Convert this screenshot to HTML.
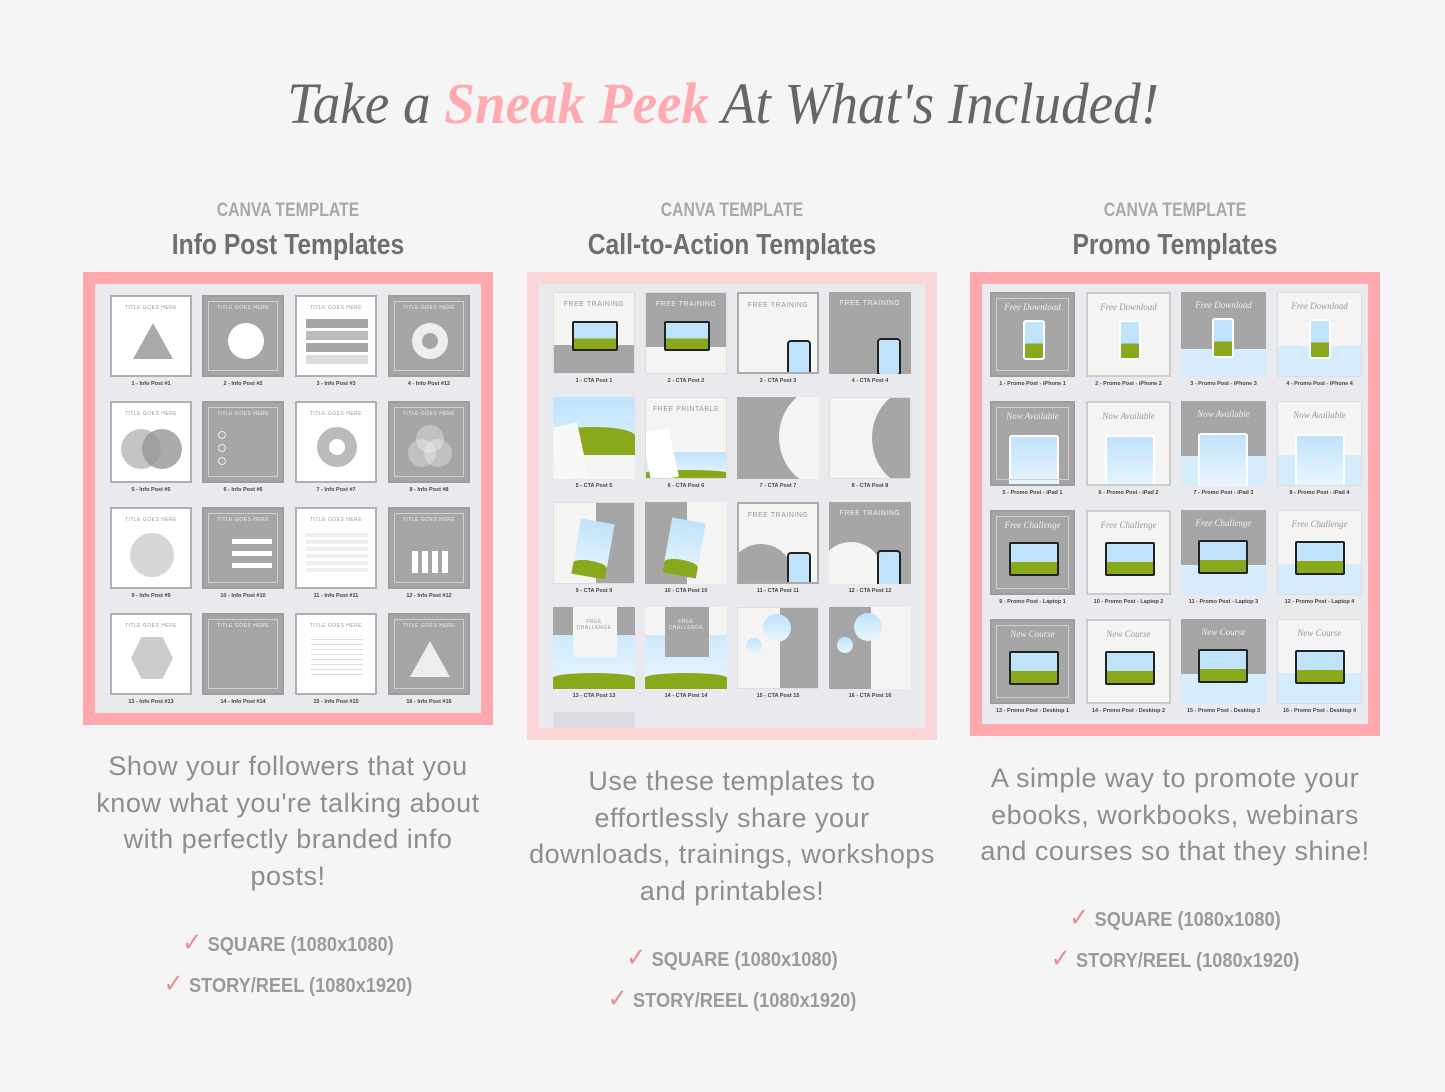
<!DOCTYPE html>
<html><head><meta charset="utf-8">
<style>
*{margin:0;padding:0;box-sizing:border-box}
body{width:1445px;height:1092px;background:#f5f5f5;position:relative;overflow:hidden;font-family:"Liberation Sans",sans-serif}
.abs{position:absolute}
#title{left:0;top:70px;width:1445px;text-align:center;font-family:"Liberation Serif",serif;font-style:italic;font-size:58px;color:#666;white-space:nowrap;transform:scaleX(0.95);transform-origin:734px 0}
#title span{color:#ffaab0;font-weight:bold}
.ct{font-family:"Liberation Sans Narrow","Liberation Sans",sans-serif;font-weight:bold;color:#a8a8a8;font-size:19px;text-align:center;width:410px;transform:scaleX(0.83)}
.st{font-family:"Liberation Sans Narrow","Liberation Sans",sans-serif;font-weight:bold;color:#6f6f6f;font-size:29px;text-align:center;width:410px;transform:scaleX(0.85)}
.panel{position:absolute}
.inner{position:absolute;background:#e9eaee}
.t{position:absolute;overflow:hidden}
.w{background:#fff;border:2px solid #b0b0b0}
.g{background:#a6a6a6;border:2px solid #9c9c9c}
.g::after{content:"";position:absolute;left:4px;top:4px;right:4px;bottom:4px;border:1px solid #cfcfcf}
.lb{position:absolute;font-size:5.5px;font-weight:bold;color:#444;text-align:center;white-space:nowrap}
.tt{position:absolute;left:0;right:0;top:8px;text-align:center;font-size:5px;letter-spacing:.5px;color:#999}
.g .tt{color:#eee}
.desc{text-align:center;color:#8e8e8e;font-size:27px;letter-spacing:.5px;line-height:36.5px;width:440px}
.chk{font-family:"Liberation Sans Narrow","Liberation Sans",sans-serif;font-weight:bold;color:#9a9a9a;font-size:20px;width:410px;text-align:center;transform:scaleX(0.91)}
.chk b{color:#e58f95;font-size:26px;margin-right:6px;font-weight:normal;font-family:"DejaVu Sans",sans-serif}
.lt{background:#f4f4f2;border:1px solid #ddd}
.sky{background:linear-gradient(#bfe3fb,#eaf6fe)}
.grass{position:absolute;left:0;right:0;bottom:0;background:#8aa81c;border-radius:50% 50% 0 0/30% 30% 0 0}
.dev{position:absolute;border:2px solid #222;background:linear-gradient(#bfe3fb 60%,#8aa81c 60%);border-radius:2px}
.sc{font-size:9px;font-style:italic;font-family:'Liberation Serif',serif;letter-spacing:0}
</style></head><body>
<div id="title" class="abs">Take a <span>Sneak Peek</span> At What's Included!</div>

<div class="abs ct" style="left:83px;top:200px">CANVA TEMPLATE</div>
<div class="abs st" style="left:83px;top:229px">Info Post Templates</div>
<div class="abs ct" style="left:527px;top:200px">CANVA TEMPLATE</div>
<div class="abs st" style="left:527px;top:229px">Call-to-Action Templates</div>
<div class="abs ct" style="left:970px;top:200px">CANVA TEMPLATE</div>
<div class="abs st" style="left:970px;top:229px">Promo Templates</div>

<div class="panel" style="left:83px;top:272px;width:410px;height:453px;background:#ffa8ae"></div>
<div class="inner" style="left:95px;top:284px;width:386px;height:429px"></div>
<div class="panel" style="left:527px;top:272px;width:410px;height:468px;background:#fcd5d7"></div>
<div class="inner" style="left:539px;top:284px;width:386px;height:444px"></div>
<div class="t" style="left:553px;top:712px;width:82px;height:16px;background:#dcdde3"></div>
<div class="panel" style="left:970px;top:272px;width:410px;height:464px;background:#ffa8ae"></div>
<div class="inner" style="left:982px;top:284px;width:386px;height:440px"></div>

<!-- tiles panel 1 -->
<div class="t w" style="left:110px;top:295px;width:82px;height:82px"><div class="tt">TITLE GOES HERE</div><div class="abs" style="left:21px;top:26px;width:0;height:0;border-left:20px solid transparent;border-right:20px solid transparent;border-bottom:36px solid #aaa"></div></div>
<div class="t g" style="left:202px;top:295px;width:82px;height:82px"><div class="tt">TITLE GOES HERE</div><div class="abs" style="left:24px;top:26px;width:36px;height:36px;border-radius:50%;background:#fff"></div></div>
<div class="t w" style="left:295px;top:295px;width:82px;height:82px"><div class="tt">TITLE GOES HERE</div><div class="abs" style="left:9px;top:22px;width:62px;height:9px;background:#a6a6a6"></div><div class="abs" style="left:9px;top:34px;width:62px;height:9px;background:#bbb"></div><div class="abs" style="left:9px;top:46px;width:62px;height:9px;background:#a6a6a6"></div><div class="abs" style="left:9px;top:58px;width:62px;height:9px;background:#ddd"></div></div>
<div class="t g" style="left:388px;top:295px;width:82px;height:82px"><div class="tt">TITLE GOES HERE</div><div class="abs" style="left:22px;top:26px;width:36px;height:36px;border-radius:50%;border:10px solid #eee"></div></div>

<div class="t w" style="left:110px;top:401px;width:82px;height:82px"><div class="tt">TITLE GOES HERE</div><div class="abs" style="left:9px;top:26px;width:40px;height:40px;border-radius:50%;background:#c4c4c4"></div><div class="abs" style="left:30px;top:26px;width:40px;height:40px;border-radius:50%;background:rgba(150,150,150,.8)"></div></div>
<div class="t g" style="left:202px;top:401px;width:82px;height:82px"><div class="tt">TITLE GOES HERE</div><div class="abs" style="left:14px;top:28px;width:8px;height:8px;border:1px solid #eee;border-radius:50%"></div><div class="abs" style="left:14px;top:41px;width:8px;height:8px;border:1px solid #eee;border-radius:50%"></div><div class="abs" style="left:14px;top:54px;width:8px;height:8px;border:1px solid #eee;border-radius:50%"></div></div>
<div class="t w" style="left:295px;top:401px;width:82px;height:82px"><div class="tt">TITLE GOES HERE</div><div class="abs" style="left:20px;top:24px;width:40px;height:40px;border-radius:50%;border:12px solid #bbb"></div></div>
<div class="t g" style="left:388px;top:401px;width:82px;height:82px"><div class="tt">TITLE GOES HERE</div><div class="abs" style="left:26px;top:22px;width:28px;height:28px;border-radius:50%;background:rgba(255,255,255,.3)"></div><div class="abs" style="left:18px;top:36px;width:28px;height:28px;border-radius:50%;background:rgba(255,255,255,.3)"></div><div class="abs" style="left:34px;top:36px;width:28px;height:28px;border-radius:50%;background:rgba(255,255,255,.3)"></div></div>

<div class="t w" style="left:110px;top:507px;width:82px;height:82px"><div class="tt">TITLE GOES HERE</div><div class="abs" style="left:18px;top:24px;width:44px;height:44px;border-radius:50%;background:#d6d6d6"></div></div>
<div class="t g" style="left:202px;top:507px;width:82px;height:82px"><div class="tt">TITLE GOES HERE</div><div class="abs" style="left:28px;top:30px;width:40px;height:5px;background:#fff"></div><div class="abs" style="left:28px;top:42px;width:40px;height:5px;background:#fff"></div><div class="abs" style="left:28px;top:54px;width:40px;height:5px;background:#fff"></div></div>
<div class="t w" style="left:295px;top:507px;width:82px;height:82px"><div class="tt">TITLE GOES HERE</div><div class="abs" style="left:9px;top:24px;width:62px;height:40px;background:repeating-linear-gradient(#eee 0 4px,#fff 4px 7px)"></div></div>
<div class="t g" style="left:388px;top:507px;width:82px;height:82px"><div class="tt">TITLE GOES HERE</div><div class="abs" style="left:22px;top:42px;width:36px;height:22px;background:repeating-linear-gradient(90deg,#fff 0 6px,transparent 6px 10px)"></div></div>

<div class="t w" style="left:110px;top:613px;width:82px;height:82px"><div class="tt">TITLE GOES HERE</div><div class="abs" style="left:19px;top:22px;width:42px;height:42px;background:#ccc;clip-path:polygon(25% 0,75% 0,100% 50%,75% 100%,25% 100%,0 50%)"></div></div>
<div class="t g" style="left:202px;top:613px;width:82px;height:82px"><div class="tt">TITLE GOES HERE</div></div>
<div class="t w" style="left:295px;top:613px;width:82px;height:82px"><div class="tt">TITLE GOES HERE</div><div class="abs" style="left:14px;top:24px;width:52px;height:40px;background:repeating-linear-gradient(#ddd 0 1px,#fff 1px 5px)"></div></div>
<div class="t g" style="left:388px;top:613px;width:82px;height:82px"><div class="tt">TITLE GOES HERE</div><div class="abs" style="left:20px;top:26px;width:0;height:0;border-left:20px solid transparent;border-right:20px solid transparent;border-bottom:36px solid #eee"></div></div>

<div class="lb" style="left:110px;top:381px;width:82px">1 - Info Post #1</div>
<div class="lb" style="left:202px;top:381px;width:82px">2 - Info Post #2</div>
<div class="lb" style="left:295px;top:381px;width:82px">3 - Info Post #3</div>
<div class="lb" style="left:388px;top:381px;width:82px">4 - Info Post #12</div>
<div class="lb" style="left:110px;top:487px;width:82px">5 - Info Post #5</div>
<div class="lb" style="left:202px;top:487px;width:82px">6 - Info Post #6</div>
<div class="lb" style="left:295px;top:487px;width:82px">7 - Info Post #7</div>
<div class="lb" style="left:388px;top:487px;width:82px">8 - Info Post #8</div>
<div class="lb" style="left:110px;top:593px;width:82px">9 - Info Post #9</div>
<div class="lb" style="left:202px;top:593px;width:82px">10 - Info Post #10</div>
<div class="lb" style="left:295px;top:593px;width:82px">11 - Info Post #11</div>
<div class="lb" style="left:388px;top:593px;width:82px">12 - Info Post #12</div>
<div class="lb" style="left:110px;top:699px;width:82px">13 - Info Post #13</div>
<div class="lb" style="left:202px;top:699px;width:82px">14 - Info Post #14</div>
<div class="lb" style="left:295px;top:699px;width:82px">15 - Info Post #15</div>
<div class="lb" style="left:388px;top:699px;width:82px">16 - Info Post #16</div>

<!-- tiles panel 2 -->
<div class="t lt" style="left:553px;top:292px;width:82px;height:82px"><div class="tt" style="font-size:7px">FREE TRAINING</div><div class="abs" style="left:0;right:0;bottom:0;height:28px;background:#a6a6a6"></div><div class="dev" style="left:18px;top:28px;width:46px;height:30px"></div></div>
<div class="t lt" style="left:645px;top:292px;width:82px;height:82px"><div class="abs" style="left:0;right:0;top:0;height:54px;background:#a6a6a6"></div><div class="tt" style="color:#eee;font-size:7px">FREE TRAINING</div><div class="dev" style="left:18px;top:28px;width:46px;height:30px"></div></div>
<div class="t lt" style="left:737px;top:292px;width:82px;height:82px;border:2px solid #aaa"><div class="tt" style="font-size:7px">FREE TRAINING</div><div class="dev" style="left:48px;top:46px;width:24px;height:38px;border-radius:4px;background:#bfe3fb"></div></div>
<div class="t" style="left:829px;top:292px;width:82px;height:82px;background:#a6a6a6"><div class="tt" style="color:#eee;font-size:7px">FREE TRAINING</div><div class="dev" style="left:48px;top:46px;width:24px;height:38px;border-radius:4px;background:#bfe3fb"></div></div>

<div class="t sky" style="left:553px;top:397px;width:82px;height:82px"><div class="grass" style="height:30px;bottom:22px"></div><div class="abs" style="left:0;right:0;bottom:0;height:24px;background:#f4f4f2"></div><div class="abs" style="left:0;top:28px;width:30px;height:54px;background:#f8f8f8;transform:rotate(-12deg)"></div></div>
<div class="t lt" style="left:645px;top:397px;width:82px;height:82px"><div class="tt" style="font-size:7px">FREE PRINTABLE</div><div class="abs sky" style="left:0;right:0;bottom:0;height:26px"></div><div class="grass" style="height:8px"></div><div class="abs" style="left:0;top:32px;width:28px;height:50px;background:#fff;transform:rotate(-12deg)"></div></div>
<div class="t" style="left:737px;top:397px;width:82px;height:82px;background:#a6a6a6"><div class="abs" style="left:42px;top:-10px;width:90px;height:100px;border-radius:50%;background:#f4f4f2"></div></div>
<div class="t lt" style="left:829px;top:397px;width:82px;height:82px"><div class="abs" style="left:42px;top:-10px;width:90px;height:100px;border-radius:50%;background:#a6a6a6"></div></div>

<div class="t lt" style="left:553px;top:502px;width:82px;height:82px"><div class="abs" style="left:42px;top:0;width:40px;height:82px;background:#a6a6a6"></div><div class="abs sky" style="left:22px;top:18px;width:34px;height:56px;transform:rotate(10deg)"><div class="grass" style="height:16px"></div></div></div>
<div class="t" style="left:645px;top:502px;width:82px;height:82px;background:#a6a6a6"><div class="abs" style="left:42px;top:0;width:40px;height:82px;background:#f4f4f2"></div><div class="abs sky" style="left:22px;top:18px;width:34px;height:56px;transform:rotate(10deg)"><div class="grass" style="height:16px"></div></div></div>
<div class="t lt" style="left:737px;top:502px;width:82px;height:82px;border:2px solid #aaa"><div class="tt" style="font-size:7px">FREE TRAINING</div><div class="abs" style="left:-10px;top:40px;width:64px;height:64px;border-radius:50%;background:#a6a6a6"></div><div class="dev" style="left:48px;top:48px;width:24px;height:38px;border-radius:4px;background:#bfe3fb"></div></div>
<div class="t" style="left:829px;top:502px;width:82px;height:82px;background:#a6a6a6"><div class="tt" style="color:#eee;font-size:7px">FREE TRAINING</div><div class="abs" style="left:-10px;top:40px;width:64px;height:64px;border-radius:50%;background:#f4f4f2"></div><div class="dev" style="left:48px;top:48px;width:24px;height:38px;border-radius:4px;background:#bfe3fb"></div></div>

<div class="t sky" style="left:553px;top:607px;width:82px;height:82px"><div class="abs" style="left:0;top:0;right:0;height:28px;background:#a6a6a6"></div><div class="abs" style="left:20px;top:0;width:44px;height:50px;background:#f4f4f2"></div><div class="tt" style="top:12px">FREE<br>CHALLENGE</div><div class="grass" style="height:16px"></div></div>
<div class="t sky" style="left:645px;top:607px;width:82px;height:82px"><div class="abs" style="left:0;top:0;right:0;height:28px;background:#f4f4f2"></div><div class="abs" style="left:20px;top:0;width:44px;height:50px;background:#a6a6a6"></div><div class="tt" style="top:12px;color:#eee">FREE<br>CHALLENGE</div><div class="grass" style="height:16px"></div></div>
<div class="t lt" style="left:737px;top:607px;width:82px;height:82px"><div class="abs" style="left:42px;top:0;width:40px;height:82px;background:#a6a6a6"></div><div class="abs sky" style="left:25px;top:6px;width:28px;height:28px;border-radius:50%"></div><div class="abs sky" style="left:8px;top:30px;width:16px;height:16px;border-radius:50%"></div></div>
<div class="t" style="left:829px;top:607px;width:82px;height:82px;background:#f4f4f2"><div class="abs" style="left:0;top:0;width:42px;height:82px;background:#a6a6a6"></div><div class="abs sky" style="left:25px;top:6px;width:28px;height:28px;border-radius:50%"></div><div class="abs sky" style="left:8px;top:30px;width:16px;height:16px;border-radius:50%"></div></div>

<div class="lb" style="left:553px;top:378px;width:82px">1 - CTA Post 1</div>
<div class="lb" style="left:645px;top:378px;width:82px">2 - CTA Post 2</div>
<div class="lb" style="left:737px;top:378px;width:82px">3 - CTA Post 3</div>
<div class="lb" style="left:829px;top:378px;width:82px">4 - CTA Post 4</div>
<div class="lb" style="left:553px;top:483px;width:82px">5 - CTA Post 5</div>
<div class="lb" style="left:645px;top:483px;width:82px">6 - CTA Post 6</div>
<div class="lb" style="left:737px;top:483px;width:82px">7 - CTA Post 7</div>
<div class="lb" style="left:829px;top:483px;width:82px">8 - CTA Post 8</div>
<div class="lb" style="left:553px;top:588px;width:82px">9 - CTA Post 9</div>
<div class="lb" style="left:645px;top:588px;width:82px">10 - CTA Post 10</div>
<div class="lb" style="left:737px;top:588px;width:82px">11 - CTA Post 11</div>
<div class="lb" style="left:829px;top:588px;width:82px">12 - CTA Post 12</div>
<div class="lb" style="left:553px;top:693px;width:82px">13 - CTA Post 13</div>
<div class="lb" style="left:645px;top:693px;width:82px">14 - CTA Post 14</div>
<div class="lb" style="left:737px;top:693px;width:82px">15 - CTA Post 15</div>
<div class="lb" style="left:829px;top:693px;width:82px">16 - CTA Post 16</div>

<!-- tiles panel 3 -->
<div class="t g" style="left:990px;top:292px;width:85px;height:85px"><div class="tt sc">Free Download</div><div class="dev" style="left:31px;top:26px;width:22px;height:40px;border-color:#fff;border-radius:3px"></div></div>
<div class="t lt" style="left:1086px;top:292px;width:85px;height:85px;border:2px solid #ccc"><div class="tt sc">Free Download</div><div class="dev" style="left:31px;top:26px;width:22px;height:40px;border-color:#fff;border-radius:3px"></div></div>
<div class="t" style="left:1181px;top:292px;width:85px;height:85px;background:#a6a6a6"><div class="abs" style="left:0;right:0;bottom:0;height:28px;background:#d4ecfc"></div><div class="tt sc" style="color:#eee">Free Download</div><div class="dev" style="left:31px;top:26px;width:22px;height:40px;border-color:#fff;border-radius:3px"></div></div>
<div class="t lt" style="left:1277px;top:292px;width:85px;height:85px"><div class="abs" style="left:0;right:0;bottom:0;height:30px;background:#d4ecfc"></div><div class="tt sc">Free Download</div><div class="dev" style="left:31px;top:26px;width:22px;height:40px;border-color:#fff;border-radius:3px"></div></div>

<div class="t g" style="left:990px;top:401px;width:85px;height:85px"><div class="tt sc" style="color:#eee">Now Available</div><div class="abs sky" style="left:17px;top:32px;width:50px;height:55px;border:2px solid #fff;border-radius:3px"></div></div>
<div class="t lt" style="left:1086px;top:401px;width:85px;height:85px;border:2px solid #ccc"><div class="tt sc">Now Available</div><div class="abs sky" style="left:17px;top:32px;width:50px;height:55px;border:2px solid #fff;border-radius:3px"></div></div>
<div class="t" style="left:1181px;top:401px;width:85px;height:85px;background:#a6a6a6"><div class="abs" style="left:0;right:0;bottom:0;height:30px;background:#d4ecfc"></div><div class="tt sc" style="color:#eee">Now Available</div><div class="abs sky" style="left:17px;top:32px;width:50px;height:55px;border:2px solid #fff;border-radius:3px"></div></div>
<div class="t lt" style="left:1277px;top:401px;width:85px;height:85px"><div class="abs" style="left:0;right:0;bottom:0;height:30px;background:#d4ecfc"></div><div class="tt sc">Now Available</div><div class="abs sky" style="left:17px;top:32px;width:50px;height:55px;border:2px solid #fff;border-radius:3px"></div></div>

<div class="t g" style="left:990px;top:510px;width:85px;height:85px"><div class="tt sc" style="color:#eee">Free Challenge</div><div class="dev" style="left:17px;top:30px;width:50px;height:34px"></div></div>
<div class="t lt" style="left:1086px;top:510px;width:85px;height:85px;border:2px solid #ccc"><div class="tt sc">Free Challenge</div><div class="dev" style="left:17px;top:30px;width:50px;height:34px"></div></div>
<div class="t" style="left:1181px;top:510px;width:85px;height:85px;background:#a6a6a6"><div class="abs" style="left:0;right:0;bottom:0;height:30px;background:#d4ecfc"></div><div class="tt sc" style="color:#eee">Free Challenge</div><div class="dev" style="left:17px;top:30px;width:50px;height:34px"></div></div>
<div class="t lt" style="left:1277px;top:510px;width:85px;height:85px"><div class="abs" style="left:0;right:0;bottom:0;height:30px;background:#d4ecfc"></div><div class="tt sc">Free Challenge</div><div class="dev" style="left:17px;top:30px;width:50px;height:34px"></div></div>

<div class="t g" style="left:990px;top:619px;width:85px;height:85px"><div class="tt sc" style="color:#eee">New Course</div><div class="dev" style="left:17px;top:30px;width:50px;height:34px"></div></div>
<div class="t lt" style="left:1086px;top:619px;width:85px;height:85px;border:2px solid #ccc"><div class="tt sc">New Course</div><div class="dev" style="left:17px;top:30px;width:50px;height:34px"></div></div>
<div class="t" style="left:1181px;top:619px;width:85px;height:85px;background:#a6a6a6"><div class="abs" style="left:0;right:0;bottom:0;height:30px;background:#d4ecfc"></div><div class="tt sc" style="color:#eee">New Course</div><div class="dev" style="left:17px;top:30px;width:50px;height:34px"></div></div>
<div class="t lt" style="left:1277px;top:619px;width:85px;height:85px"><div class="abs" style="left:0;right:0;bottom:0;height:30px;background:#d4ecfc"></div><div class="tt sc">New Course</div><div class="dev" style="left:17px;top:30px;width:50px;height:34px"></div></div>

<div class="lb" style="left:985px;top:381px;width:95px">1 - Promo Post - iPhone 1</div>
<div class="lb" style="left:1081px;top:381px;width:95px">2 - Promo Post - iPhone 2</div>
<div class="lb" style="left:1176px;top:381px;width:95px">3 - Promo Post - iPhone 3</div>
<div class="lb" style="left:1272px;top:381px;width:95px">4 - Promo Post - iPhone 4</div>
<div class="lb" style="left:985px;top:490px;width:95px">5 - Promo Post - iPad 1</div>
<div class="lb" style="left:1081px;top:490px;width:95px">6 - Promo Post - iPad 2</div>
<div class="lb" style="left:1176px;top:490px;width:95px">7 - Promo Post - iPad 3</div>
<div class="lb" style="left:1272px;top:490px;width:95px">8 - Promo Post - iPad 4</div>
<div class="lb" style="left:985px;top:599px;width:95px">9 - Promo Post - Laptop 1</div>
<div class="lb" style="left:1081px;top:599px;width:95px">10 - Promo Post - Laptop 2</div>
<div class="lb" style="left:1176px;top:599px;width:95px">11 - Promo Post - Laptop 3</div>
<div class="lb" style="left:1272px;top:599px;width:95px">12 - Promo Post - Laptop 4</div>
<div class="lb" style="left:985px;top:708px;width:95px">13 - Promo Post - Desktop 1</div>
<div class="lb" style="left:1081px;top:708px;width:95px">14 - Promo Post - Desktop 2</div>
<div class="lb" style="left:1176px;top:708px;width:95px">15 - Promo Post - Desktop 3</div>
<div class="lb" style="left:1272px;top:708px;width:95px">16 - Promo Post - Desktop 4</div>

<div class="abs desc" style="left:68px;top:748px">Show your followers that you<br>know what you're talking about<br>with perfectly branded info<br>posts!</div>
<div class="abs desc" style="left:512px;top:763px">Use these templates to<br>effortlessly share your<br>downloads, trainings, workshops<br>and printables!</div>
<div class="abs desc" style="left:955px;top:760px">A simple way to promote your<br>ebooks, workbooks, webinars<br>and courses so that they shine!</div>

<div class="abs chk" style="left:83px;top:928px"><b>✓</b>SQUARE (1080x1080)</div>
<div class="abs chk" style="left:83px;top:969px"><b>✓</b>STORY/REEL (1080x1920)</div>
<div class="abs chk" style="left:527px;top:943px"><b>✓</b>SQUARE (1080x1080)</div>
<div class="abs chk" style="left:527px;top:984px"><b>✓</b>STORY/REEL (1080x1920)</div>
<div class="abs chk" style="left:970px;top:903px"><b>✓</b>SQUARE (1080x1080)</div>
<div class="abs chk" style="left:970px;top:944px"><b>✓</b>STORY/REEL (1080x1920)</div>
</body></html>
